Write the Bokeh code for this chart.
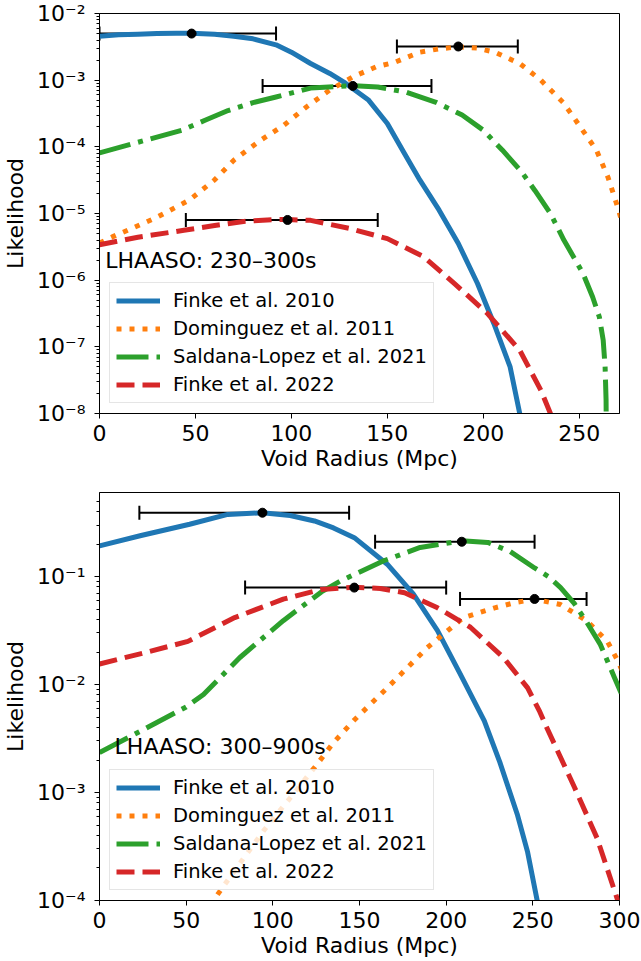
from bokeh.plotting import figure
from bokeh.layouts import column
from bokeh.models import (Range1d, FixedTicker, CustomJSTickFormatter, Whisker, TeeHead,
                          ColumnDataSource, Label)
from bokeh.embed import file_html
from bokeh.resources import INLINE

FONT = "DejaVu Sans"
C_BLUE, C_ORANGE, C_GREEN, C_RED = "#1f77b4", "#ff7f0e", "#2ca02c", "#d62728"

# ---------------- Panel 1: LHAASO 230-300 s ----------------
p1_r_finke10 = [0, 10, 20, 30, 40, 48, 60, 70, 80, 92, 100, 110, 120, 128, 140, 150, 159, 167, 177, 187, 197, 205.5, 214, 219, 222]
p1_L_finke10 = [4.57e-3, 4.79e-3, 4.9e-3, 5.01e-3, 5.07e-3, 5.07e-3, 4.9e-3, 4.57e-3, 4.17e-3, 3.39e-3, 2.63e-3, 1.78e-3, 1.26e-3,
                9.1e-4, 5.1e-4, 2.24e-4, 7.9e-5, 3.16e-5, 1.12e-5, 3.55e-6, 8.9e-7, 2.24e-7, 5.0e-8, 1.0e-8, 3.2e-9]
p1_r_dom11 = [0, 7, 29, 47, 60, 70, 84, 96, 108, 120, 132, 144, 154, 167, 177, 187, 197, 206, 219, 230, 242, 250, 259, 265, 270, 276]
p1_L_dom11 = [3.6e-6, 4.5e-6, 8.5e-6, 1.6e-5, 3.2e-5, 6.3e-5, 1.26e-4, 2.1e-4, 4.0e-4, 7.1e-4, 1.12e-3, 1.58e-3, 1.86e-3,
              2.63e-3, 2.95e-3, 3.16e-3, 3.02e-3, 2.63e-3, 1.78e-3, 1.0e-3, 4.5e-4, 2.1e-4, 8.9e-5, 3.5e-5, 1.26e-5, 3.2e-6]
p1_r_sl21 = [0, 20, 43, 55, 67, 80, 92, 110, 132, 145, 160, 175, 189, 200, 210, 220, 227, 235, 242, 252, 257, 260.5, 262.5, 263.5, 264, 264.3]
p1_L_sl21 = [8.1e-5, 1.17e-4, 1.78e-4, 2.5e-4, 3.5e-4, 4.6e-4, 5.6e-4, 7.6e-4, 8.3e-4, 7.9e-4, 6.6e-4, 4.7e-4, 3.0e-4,
             1.78e-4, 8.9e-5, 4.2e-5, 2.2e-5, 1.0e-5, 4.0e-6, 1.26e-6, 5.6e-7, 2.8e-7, 1.26e-7, 5.0e-8, 1.6e-8, 1.0e-9]
p1_r_finke22 = [0, 20, 44, 60, 75, 90, 98, 110, 130, 150, 169, 185, 202, 219, 230, 235, 238]
p1_L_finke22 = [3.4e-6, 4.4e-6, 5.6e-6, 6.6e-6, 7.6e-6, 8.1e-6, 8.1e-6, 7.9e-6, 6.0e-6, 4.2e-6, 2.24e-6, 8.9e-7, 3.2e-7,
                8.9e-8, 2.24e-8, 1.0e-8, 5.0e-9]
p1_best_r = [48, 187, 132, 98]
p1_best_L = [5.0e-3, 3.2e-3, 8.2e-4, 8.0e-6]
p1_best_lo = [0, 155, 85, 45]
p1_best_hi = [92, 218, 173, 145]

# ---------------- Panel 2: LHAASO 300-900 s ----------------
p2_r_finke10 = [0, 24, 52, 74, 94, 110, 124, 135, 147, 166, 181, 195, 208, 222, 231, 241, 247, 252.5, 256]
p2_L_finke10 = [0.192, 0.24, 0.305, 0.376, 0.389, 0.367, 0.327, 0.282, 0.229, 0.130, 0.069, 0.0316, 0.0126,
                4.6e-3, 1.9e-3, 6.3e-4, 2.8e-4, 1.0e-4, 4.0e-5]
p2_r_dom11 = [60, 67.5, 80, 95, 110, 125, 135, 147, 166, 189, 210, 228, 240, 251, 266, 281, 293, 299, 305]
p2_L_dom11 = [7.1e-5, 1.1e-4, 2.1e-4, 4.5e-4, 8.9e-4, 1.78e-3, 2.9e-3, 4.7e-3, 9.3e-3, 0.0219, 0.0417, 0.0513,
              0.0575, 0.0617, 0.055, 0.039, 0.0251, 0.0166, 0.01]
p2_r_sl21 = [0, 25, 50, 60, 81, 106, 128, 139, 164, 185, 209, 224, 237, 251, 259, 266, 274, 281, 289, 297, 301]
p2_L_sl21 = [2.34e-3, 3.8e-3, 6.2e-3, 8.1e-3, 0.0178, 0.039, 0.072, 0.091, 0.140, 0.186, 0.214, 0.207, 0.170,
             0.120, 0.100, 0.079, 0.056, 0.038, 0.0234, 0.0117, 8.3e-3]
p2_r_finke22 = [0, 25, 51, 78, 106, 128, 147, 162, 176, 195, 214, 233, 247, 254, 258, 274, 287, 299, 303]
p2_L_finke22 = [0.0155, 0.0195, 0.0251, 0.0417, 0.0617, 0.0759, 0.0794, 0.0776, 0.0708, 0.0513, 0.0339, 0.0178,
                9.3e-3, 5.6e-3, 4.0e-3, 1.12e-3, 3.8e-4, 1.0e-4, 5.0e-5]
p2_best_r = [94, 251, 209, 147]
p2_best_L = [0.39, 0.062, 0.21, 0.079]
p2_best_lo = [23, 208, 159, 84]
p2_best_hi = [144, 281, 251, 200]

x_ticks_1 = [0, 50, 100, 150, 200, 250]
x_ticks_2 = [0, 50, 100, 150, 200, 250, 300]
y_ticks_1 = [1e-8, 1e-7, 1e-6, 1e-5, 1e-4, 1e-3, 1e-2]
y_ticks_2 = [1e-4, 1e-3, 1e-2, 1e-1]
labels = ["Finke et al. 2010", "Dominguez et al. 2011", "Saldana-Lopez et al. 2021", "Finke et al. 2022"]

SUP_JS = """
const e = Math.round(Math.log10(tick));
const sup = {"-": "\u207b", "0": "\u2070", "1": "\u00b9", "2": "\u00b2", "3": "\u00b3",
             "4": "\u2074", "5": "\u2075", "6": "\u2076", "7": "\u2077", "8": "\u2078", "9": "\u2079"};
return "10" + String(e).split("").map(c => sup[c]).join("");
"""


def minor_log(lo_exp, hi_exp):
    out = []
    for k in range(lo_exp, hi_exp + 1):
        for m in range(2, 10):
            out.append(m * 10.0 ** k)
    return out


def panel(width, height, mb_top, mb_bottom, mb_right, xr, yr, xt, yt, ymin_exp, ymax_exp,
          curves, best, title_text, title_x, title_y):
    p = figure(width=width, height=height, x_range=Range1d(*xr), y_range=Range1d(*yr),
               y_axis_type="log", output_backend="svg", toolbar_location=None,
               min_border_left=99, min_border_right=mb_right, min_border_top=mb_top,
               min_border_bottom=mb_bottom)
    p.grid.visible = False
    p.outline_line_color = "black"
    p.outline_line_width = 1
    p.background_fill_color = "white"
    p.border_fill_color = "white"

    styles = [(C_BLUE, None), (C_ORANGE, "5 8"), (C_GREEN, "32 8 5 8"), (C_RED, "18 8")]
    for (rx, ly), (col, dash), lab in zip(curves, styles, labels):
        kw = dict(line_color=col, line_width=5, legend_label=lab, line_join="round")
        if dash:
            kw["line_dash"] = dash
        p.line(rx, ly, **kw)

    br, bl, blo, bhi = best
    src = ColumnDataSource(dict(x=br, y=bl, lo=blo, hi=bhi))
    w = Whisker(source=src, base="y", lower="lo", upper="hi", dimension="width",
                line_color="black", line_width=2,
                upper_head=TeeHead(size=14, line_width=2, line_color="black"),
                lower_head=TeeHead(size=14, line_width=2, line_color="black"))
    p.add_layout(w)
    p.scatter("x", "y", source=src, size=9, color="black")

    p.add_layout(Label(x=title_x, y=title_y, text=title_text, text_font=FONT,
                       text_font_size="22px", text_color="black", text_baseline="alphabetic"))

    for ax in (p.xaxis[0], p.yaxis[0]):
        ax.axis_line_color = "black"
        ax.major_tick_line_color = "black"
        ax.major_tick_out = 5
        ax.major_tick_in = 0
        ax.major_label_text_font = FONT
        ax.major_label_text_font_size = "22px"
        ax.major_label_text_color = "black"
        ax.axis_label_text_font = FONT
        ax.axis_label_text_font_size = "22px"
        ax.axis_label_text_font_style = "normal"
        ax.axis_label_text_color = "black"

    p.xaxis.ticker = FixedTicker(ticks=xt)
    p.xaxis.minor_tick_line_color = None
    p.xaxis.major_label_standoff = 6
    p.xaxis.axis_label = "Void Radius (Mpc)"
    p.xaxis.axis_label_standoff = 2

    p.yaxis.ticker = FixedTicker(ticks=yt, minor_ticks=minor_log(ymin_exp, ymax_exp))
    p.yaxis.formatter = CustomJSTickFormatter(code=SUP_JS)
    p.yaxis.minor_tick_out = 3
    p.yaxis.minor_tick_in = 0
    p.yaxis.minor_tick_line_color = "black"
    p.yaxis.major_label_standoff = 9
    p.yaxis.axis_label = "Likelihood"
    p.yaxis.axis_label_standoff = 6

    lg = p.legend[0]
    lg.location = "bottom_left"
    lg.margin = 10
    lg.padding = 6
    lg.spacing = 5
    lg.label_text_font = FONT
    lg.label_text_font_size = "19.5px"
    lg.label_text_color = "black"
    lg.glyph_width = 44
    lg.glyph_height = 23
    lg.label_height = 23
    lg.label_standoff = 13
    lg.border_line_color = "#cccccc"
    lg.border_line_width = 1
    lg.background_fill_color = "white"
    lg.background_fill_alpha = 0.8
    return p


p1 = panel(641, 480, 13, 67, 0, (0, 271), (1e-8, 1e-2), x_ticks_1, y_ticks_1, -9, -2,
           [(p1_r_finke10, p1_L_finke10), (p1_r_dom11, p1_L_dom11),
            (p1_r_sl21, p1_L_sl21), (p1_r_finke22, p1_L_finke22)],
           (p1_best_r, p1_best_L, p1_best_lo, p1_best_hi),
           "LHAASO: 230\u2013300s", 3, 2.0e-6)
p2 = panel(641, 480, 12, 60, 22, (0, 300), (1e-4, 0.6), x_ticks_2, y_ticks_2, -5, -1,
           [(p2_r_finke10, p2_L_finke10), (p2_r_dom11, p2_L_dom11),
            (p2_r_sl21, p2_L_sl21), (p2_r_finke22, p2_L_finke22)],
           (p2_best_r, p2_best_L, p2_best_lo, p2_best_hi),
           "LHAASO: 300\u2013900s", 8.7, 2.67e-3)

layout = column(p1, p2, spacing=0)
open("out.html", "w").write(file_html(layout, INLINE))
